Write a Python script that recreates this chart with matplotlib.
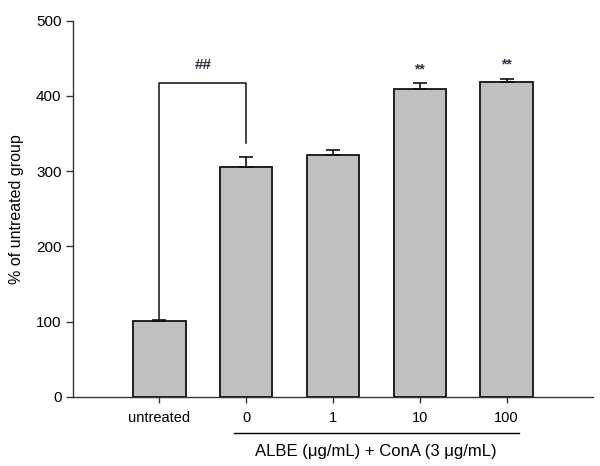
import matplotlib
matplotlib.use("Agg")
import matplotlib.pyplot as plt

plt.rcParams['font.family'] = ['Liberation Sans', 'DejaVu Sans']

categories = ["untreated", "0", "1", "10", "100"]
values = [101, 306, 322, 409, 419]
errors = [1, 13, 6, 8, 4]
stars = ["", "", "", "**", "**"]
yticks = [0, 100, 200, 300, 400, 500]
ylabel = "% of untreated group"
group_label = "ALBE (\u03bcg/mL) + ConA (3 \u03bcg/mL)"
sig_label = "##"

fig = plt.figure(figsize=(6.0, 4.66), dpi=100)
ax = fig.add_axes([0.1212, 0.1487, 0.8676, 0.8069])

x = list(range(len(categories)))
ax.bar(x, values, width=0.6, color="#c0c0c0", edgecolor="#111111", linewidth=1.3, zorder=2)
ax.errorbar(x, values, yerr=[[0]*len(errors), errors], fmt="none", ecolor="#111111",
            elinewidth=1.2, capsize=5, capthick=1.2, zorder=3)

for xi, v, e, s in zip(x, values, errors, stars):
    if s:
        ax.text(xi, v + e + 9, s, ha="center", va="bottom", fontsize=10, fontweight="bold",
                color="#333344")

# bracket
ax.plot([0, 0, 1, 1], [values[0] + errors[0], 417, 417, 338], color="#111111", linewidth=1.1, zorder=3)
ax.text(0.5, 441, sig_label, ha="center", va="center", fontsize=11, fontweight="bold",
        color="#333344")

ax.set_xlim(-1, 5)
ax.set_ylim(0, 500)
ax.set_yticks(yticks)
ax.set_xticks(x)
ax.set_xticklabels(categories, fontsize=10.5)
ax.tick_params(axis='y', labelsize=11, length=5, width=1, color="#333333", pad=3)
ax.tick_params(axis='x', length=4, width=1, color="#333333", pad=6)
ax.set_ylabel(ylabel, fontsize=11.5, labelpad=9)

for sp in ["top", "right"]:
    ax.spines[sp].set_visible(False)
for sp in ["left", "bottom"]:
    ax.spines[sp].set_color("#333333")
    ax.spines[sp].set_linewidth(1.0)

# group line and label under the x axis
trans = ax.get_xaxis_transform()
ax.plot([0.854, 4.14], [-0.097, -0.097], transform=trans, color="black", linewidth=1.0, clip_on=False)
ax.text((0.854 + 4.14) / 2, -0.146, group_label, transform=trans, ha="center", va="center",
        fontsize=12, clip_on=False)

fig.savefig("out.png", dpi=100)
